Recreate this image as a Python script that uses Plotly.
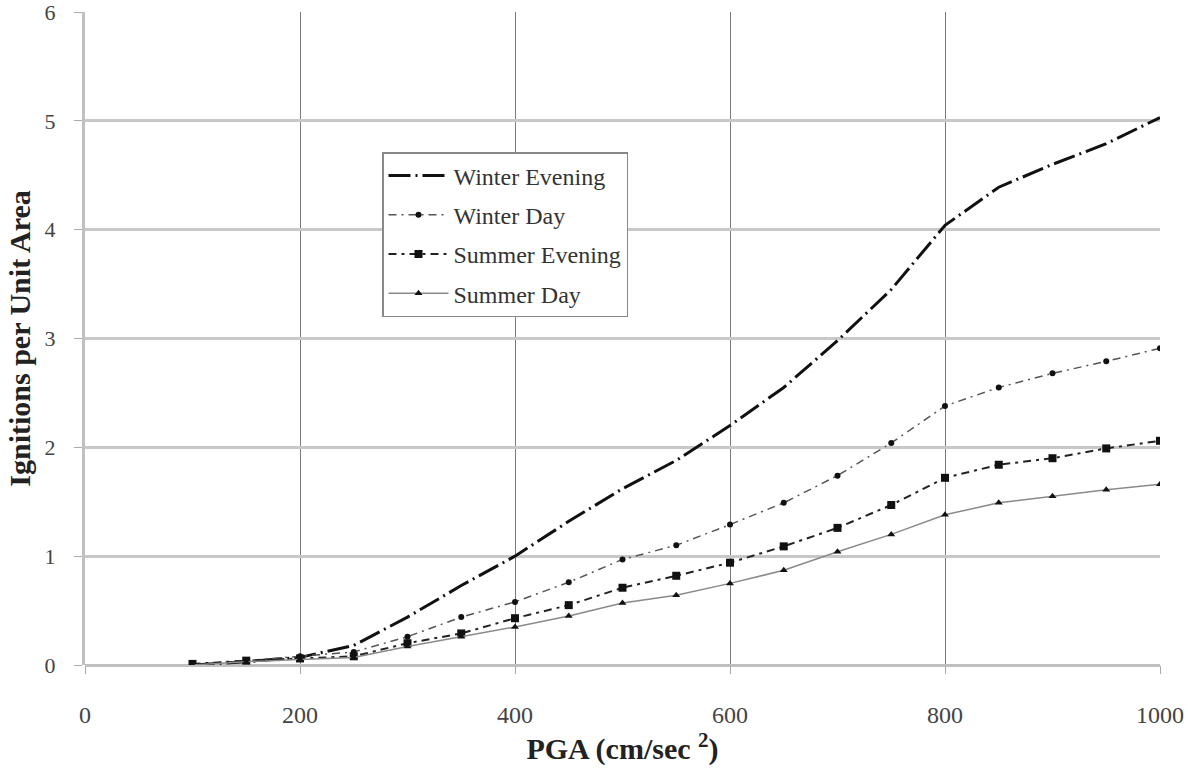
import plotly.graph_objects as go

pga = [100, 150, 200, 250, 300, 350, 400, 450, 500, 550, 600, 650, 700, 750, 800, 850, 900, 950, 1000]
winter_evening = [0.0, 0.03, 0.07, 0.18, 0.44, 0.73, 1.0, 1.32, 1.62, 1.88, 2.2, 2.55, 2.98, 3.45, 4.04, 4.39, 4.6, 4.79, 5.03]
winter_day = [0.0, 0.04, 0.08, 0.12, 0.26, 0.44, 0.58, 0.76, 0.97, 1.1, 1.29, 1.49, 1.74, 2.04, 2.38, 2.55, 2.68, 2.79, 2.91]
summer_evening = [0.01, 0.04, 0.06, 0.08, 0.2, 0.29, 0.43, 0.55, 0.71, 0.82, 0.94, 1.09, 1.26, 1.47, 1.72, 1.84, 1.9, 1.99, 2.06]
summer_day = [0.0, 0.03, 0.05, 0.07, 0.17, 0.26, 0.35, 0.45, 0.57, 0.64, 0.75, 0.87, 1.04, 1.2, 1.38, 1.49, 1.55, 1.61, 1.66]

x_ticks = [0, 200, 400, 600, 800, 1000]
y_ticks = [0, 1, 2, 3, 4, 5, 6]

font_family = "Liberation Serif, Times New Roman, serif"

fig = go.Figure()
fig.add_trace(go.Scatter(
    x=pga, y=winter_evening, name="Winter Evening", mode="lines", legendgroup="a",
    line=dict(color="#111111", width=3, dash="22px,5px,2px,5px")))
fig.add_trace(go.Scatter(
    x=pga, y=winter_day, name="Winter Day", mode="lines+markers", legendgroup="b",
    line=dict(color="#555555", width=1.5, dash="8px,5px,2px,5px"),
    marker=dict(symbol="circle", size=6, color="#111111")))
fig.add_trace(go.Scatter(
    x=pga, y=summer_evening, name="Summer Evening", mode="lines+markers", legendgroup="c",
    line=dict(color="#222222", width=2, dash="8px,5px,3px,5px"),
    marker=dict(symbol="square", size=8, color="#111111")))
fig.add_trace(go.Scatter(
    x=pga, y=summer_day, name="Summer Day", mode="lines+markers", legendgroup="d",
    line=dict(color="#8a8a8a", width=1.5),
    marker=dict(symbol="triangle-up", size=7, color="#111111")))

fig.update_layout(
    width=1188, height=768,
    margin=dict(l=85, r=28, t=12, b=103),
    paper_bgcolor="white", plot_bgcolor="white",
    font=dict(family=font_family, size=22, color="#333333"),
    showlegend=True,
    legend=dict(
        x=(382 - 85) / 1075, y=(665 - 152) / 653, xanchor="left", yanchor="top",
        bgcolor="white", bordercolor="#888888", borderwidth=1.5,
        font=dict(family=font_family, size=24, color="#333333"),
        tracegroupgap=5, itemwidth=60,
    ),
    xaxis=dict(
        range=[0, 1000], tickvals=x_ticks, ticktext=[str(v) for v in x_ticks],
        showgrid=True, gridcolor="#7a7a7a", gridwidth=1.2,
        showline=False, zeroline=False, automargin=False,
        ticks="outside", ticklen=8, tickcolor="#aaaaaa", ticklabelstandoff=20,
        ticklabeloverflow="allow",
        tickfont=dict(family=font_family, size=24, color="#444444"),
        title=dict(text="<b>PGA (cm/sec <sup>2</sup>)</b>", standoff=9,
                   font=dict(family=font_family, size=30, color="#222222")),
    ),
    yaxis=dict(
        range=[0, 6], tickvals=y_ticks, ticktext=[str(v) for v in y_ticks],
        showgrid=True, gridcolor="#c8c8c8", gridwidth=3,
        showline=True, linecolor="#c0c0c0", linewidth=3,
        zeroline=True, zerolinecolor="#c0c0c0", zerolinewidth=3, automargin=False,
        ticks="outside", ticklen=8, tickcolor="#aaaaaa", ticklabelstandoff=14,
        ticklabeloverflow="allow",
        tickfont=dict(family=font_family, size=22, color="#444444"),
        title=dict(text="<b>Ignitions per Unit Area</b>", standoff=6,
                   font=dict(family=font_family, size=30, color="#222222")),
    ),
)

fig.write_html("out.html", config={"displayModeBar": False},
               post_script="document.body.style.margin='0';")
